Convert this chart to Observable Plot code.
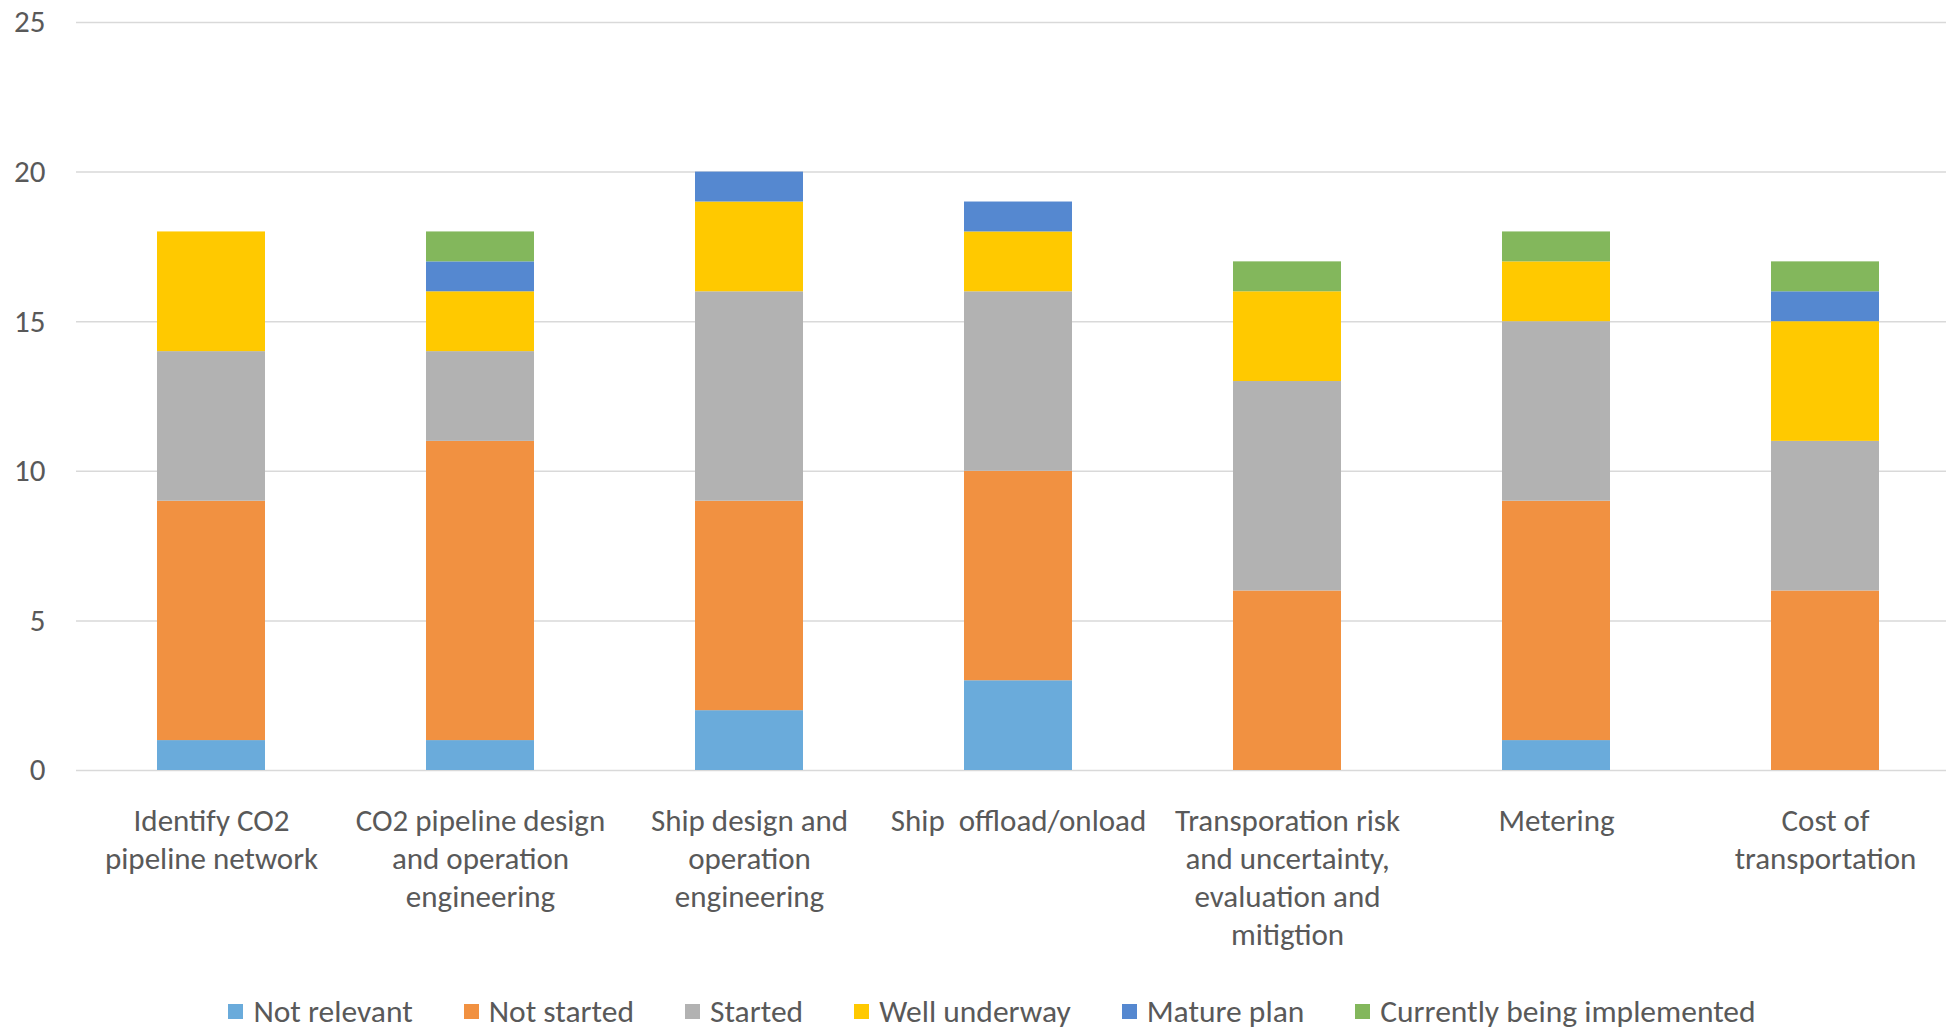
<!DOCTYPE html>
<html>
<head>
<meta charset="utf-8">
<script src="https://cdn.jsdelivr.net/npm/d3@7"></script>
<script src="https://cdn.jsdelivr.net/npm/@observablehq/plot@0.6"></script>
<style>
  html, body { margin: 0; padding: 0; background: #fff; overflow: hidden; }
  body { width: 1946px; height: 1028px; position: relative; font-family: Calibri, Carlito, Lato, sans-serif; }
  #chart svg text { white-space: pre; }
  #legend {
    position: absolute; left: 0; top: 993px; width: 1946px; height: 36px;
    display: flex; justify-content: center; align-items: center; gap: 51px;
    padding-left: 38px; box-sizing: border-box;
    font-size: 31.5px; color: #595959;
  }
  .item { display: flex; align-items: center; }
  .sw { width: 15px; height: 15px; margin-right: 10px; }
</style>
</head>
<body>
<div id="chart"></div>
<div id="legend"></div>
<script>
// Task categories along the x axis (line breaks as set in the axis labels)
const categories = [
  "Identify CO2\npipeline network",
  "CO2 pipeline design\nand operation\nengineering",
  "Ship design and\noperation\nengineering",
  "Ship  offload/onload",
  "Transporation risk\nand uncertainty,\nevaluation and\nmitigtion",
  "Metering",
  "Cost of\ntransportation"
];

// Status series, stacked bottom to top
const statuses = ["Not relevant", "Not started", "Started", "Well underway", "Mature plan", "Currently being implemented"];
const statusColors = ["#6aabdb", "#f19141", "#b2b2b2", "#ffc900", "#5588d0", "#83b75c"];

// Number of responses per status, one value per category
const notRelevant   = [1, 1, 2, 3, 0, 1, 0];
const notStarted    = [8, 10, 7, 7, 6, 8, 6];
const started       = [5, 3, 7, 6, 7, 6, 5];
const wellUnderway  = [4, 2, 3, 2, 3, 2, 4];
const maturePlan    = [0, 1, 1, 1, 0, 0, 1];
const implementing  = [0, 1, 0, 0, 1, 1, 1];

const yTicks = [0, 5, 10, 15, 20, 25];

const series = [notRelevant, notStarted, started, wellUnderway, maturePlan, implementing];
const rows = [];
series.forEach((vals, s) => {
  vals.forEach((v, i) => rows.push({category: categories[i], status: statuses[s], value: v}));
});

const textColor = "#595959";
const font = "Calibri, Carlito, Lato, sans-serif";

const chart = Plot.plot({
  width: 1946,
  height: 975,
  marginLeft: 76,
  marginRight: 0,
  marginTop: 22,
  marginBottom: 205,
  style: {fontFamily: font, fontSize: "31px", color: textColor, background: "#fff"},
  x: {domain: categories, range: [76, 1959], paddingInner: 0.6, paddingOuter: 0.3, axis: null},
  y: {domain: [0, 25], ticks: yTicks, axis: null},
  color: {domain: statuses, range: statusColors},
  marks: [
    Plot.ruleY(yTicks, {stroke: "#d9d9d9", strokeWidth: 1.5}),
    Plot.barY(rows, Plot.stackY({
      x: "category", y: "value", fill: "status", order: statuses
    })),
    Plot.axisY({
      ticks: yTicks, tickSize: 0, tickPadding: 31, textAnchor: "end",
      fill: textColor, fontSize: 31, label: null
    }),
    Plot.text(categories, {
      x: d => d, frameAnchor: "bottom", dy: 33, lineAnchor: "top",
      lineHeight: 1.23, textAnchor: "middle", fill: textColor, fontSize: 31
    })
  ]
});
document.getElementById("chart").appendChild(chart);

// Legend row below the chart
const legend = document.getElementById("legend");
statuses.forEach((s, i) => {
  const item = document.createElement("div");
  item.className = "item";
  const sw = document.createElement("span");
  sw.className = "sw";
  sw.style.background = statusColors[i];
  const label = document.createElement("span");
  label.textContent = s;
  item.appendChild(sw);
  item.appendChild(label);
  legend.appendChild(item);
});
</script>
</body>
</html>
